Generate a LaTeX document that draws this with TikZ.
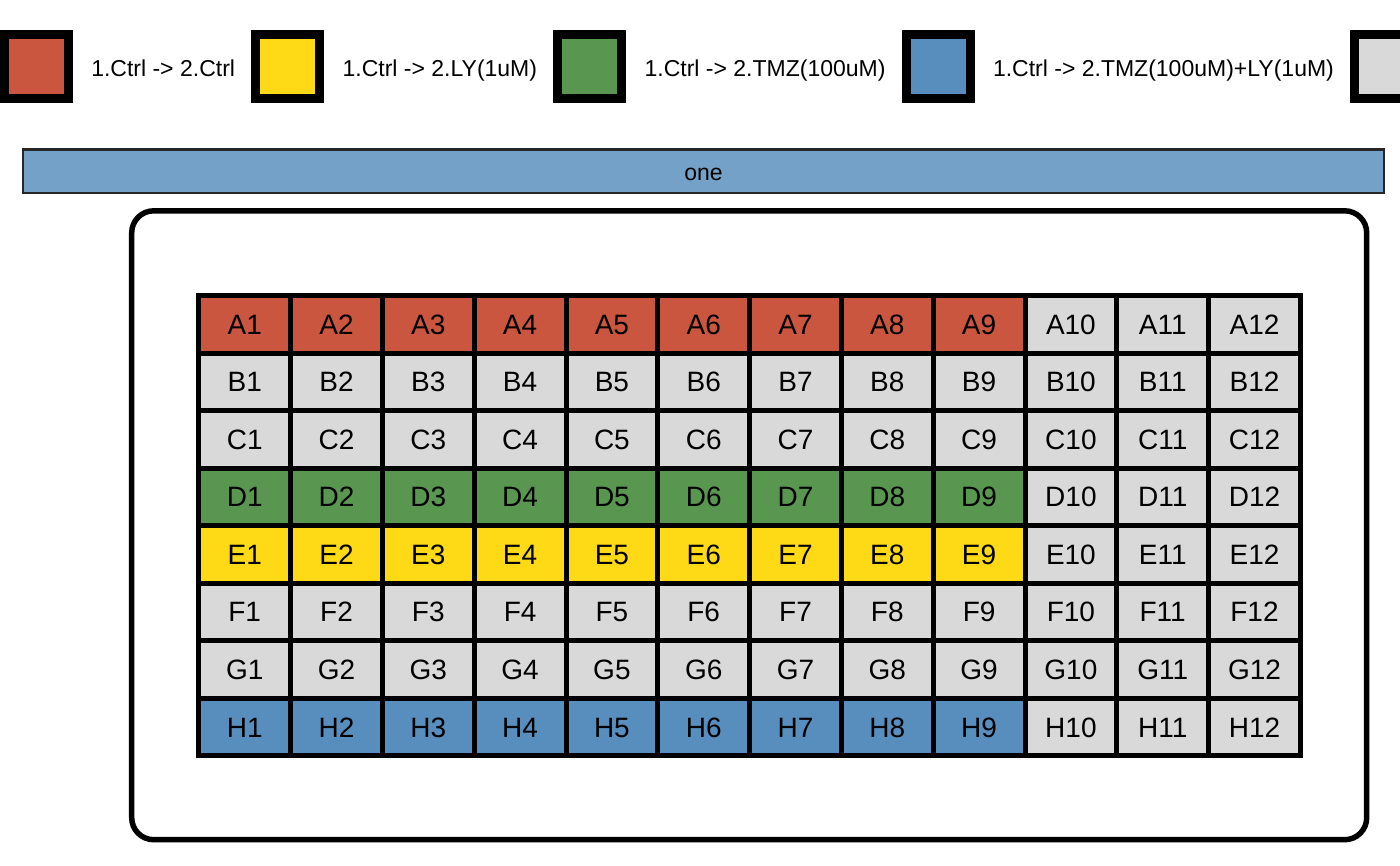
\documentclass[tikz,border=0pt]{standalone}
\usepackage{fontspec}
\setmainfont{Liberation Sans}
\usetikzlibrary{positioning}
\definecolor{ctrlcol}{HTML}{CB5640}
\definecolor{lycol}{HTML}{FED916}
\definecolor{tmzcol}{HTML}{599650}
\definecolor{combocol}{HTML}{578EBE}
\definecolor{blankcol}{HTML}{D9D9D9}
\definecolor{stripcol}{HTML}{73A1C8}
\tikzset{
	key/.style={draw, line width=6.75pt, minimum size=48pt, inner sep=0pt},
	keytext/.style={font=\fontsize{17.25}{20}\selectfont, inner sep=0pt, text height=14.6pt, text depth=0pt},
	well/.style={draw, line width=3.75pt, minimum width=68.85pt, minimum height=43.15pt, inner sep=0pt,
		font=\fontsize{21}{25}\selectfont, text height=15pt, text depth=0pt}
}
\begin{document}
\begin{tikzpicture}[x=0.75pt,y=-0.75pt]
		\useasboundingbox (0,0) rectangle (1400,865);
		\node[key,fill=ctrlcol] (kctrl) at (36.5,66.5) {};
		\node[keytext,right=13.5pt of kctrl] (tctrl) {1.Ctrl -> 2.Ctrl};
		\node[key,fill=lycol,right=12pt of tctrl] (kly) {};
		\node[keytext,right=13.5pt of kly] (tly) {1.Ctrl -> 2.LY(1uM)};
		\node[key,fill=tmzcol,right=12pt of tly] (ktmz) {};
		\node[keytext,right=13.5pt of ktmz] (ttmz) {1.Ctrl -> 2.TMZ(100uM)};
		\node[key,fill=combocol,right=12pt of ttmz] (kcombo) {};
		\node[keytext,right=13.5pt of kcombo] (tcombo) {1.Ctrl -> 2.TMZ(100uM)+LY(1uM)};
		\node[key,fill=blankcol,right=12pt of tcombo] (kblank) {};
		\draw[fill=stripcol,draw=black!85,line width=1.9pt] (23,149.5) rectangle (1384,192.8);
		\node[keytext] (one) at (703.5,171.2) {one};
		\draw[line width=4.1pt,rounded corners=16.5pt] (131.7,210.8) rectangle (1366.7,839.7);
		\foreach \r/\rc [count=\i] in {A/ctrlcol,B/blankcol,C/blankcol,D/tmzcol,E/lycol,F/blankcol,G/blankcol,H/combocol}
			\foreach \c in {1,...,12}{
				\ifnum\c<10 \def\wc{\rc}\else\def\wc{blankcol}\fi
				\node[well,fill=\wc] (\r\c) at ({198.8+91.8*(\c-0.5)},{295.5+57.54*(\i-0.5)}) {\r\c};
			}
	\end{tikzpicture}
\end{document}
